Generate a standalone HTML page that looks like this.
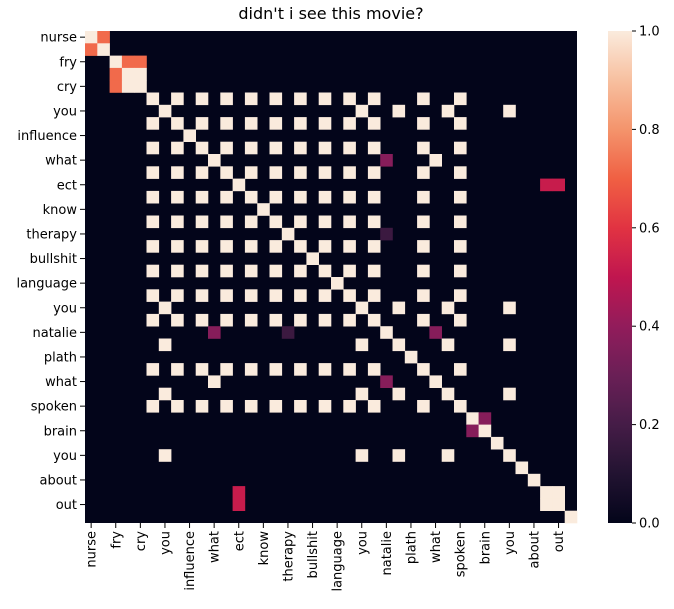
<!DOCTYPE html>
<html><head><meta charset="utf-8"><style>
body{margin:0;background:#fff;}
svg{display:block;font-family:"DejaVu Sans","Liberation Sans",sans-serif;}
</style></head><body>
<svg id="chart" width="674" height="609" viewBox="0 0 674 609">
<text x="331" y="19" font-size="16" text-anchor="middle" fill="#000">didn't i see this movie?</text>
<g id="cells"></g>
<g id="yaxis"></g>
<g id="xaxis"></g>
<defs><linearGradient id="cbgrad" x1="0" y1="1" x2="0" y2="0"></linearGradient></defs>
<rect x="608" y="31" width="24" height="492" fill="url(#cbgrad)"/>
<g id="cbaxis"></g>
</svg>
<script>
const N = 40;
const tickLabels = ["nurse","fry","cry","you","influence","what","ect","know","therapy","bullshit","language","you","natalie","plath","what","spoken","brain","you","about","out"];
// groups of tokens whose mutual similarity is 1
const groups = [
  [5,7,9,11,13,15,17,19,21,23,27,30],
  [6,22,25,29,34],
  [10,28],
  [37,38],
  [3,4]
];
// extra off-diagonal pair values [i, j, value]
const pairs = [
  [0,1,0.72],
  [2,3,0.72],[2,4,0.72],
  [12,37,0.52],[12,38,0.52],
  [24,10,0.37],[24,28,0.37],[24,16,0.17],
  [31,32,0.37]
];
const cbTicks = [0.0,0.2,0.4,0.6,0.8,1.0];

const x0=85,y0=31,W=492,H=492,cs=W/N;
const xScale=i=>x0+i*cs, yScale=i=>y0+i*cs;
const stops=[[0,"#03051a"],[0.1,"#221331"],[0.2,"#451c47"],[0.3,"#6a1f56"],[0.4,"#921c5b"],[0.5,"#c0164f"],[0.6,"#e13342"],[0.7,"#f06043"],[0.8,"#f4946c"],[0.9,"#f7c0a0"],[1,"#faebdd"]];
function hex(h){return [1,3,5].map(k=>parseInt(h.substr(k,2),16));}
function color(v){v=Math.max(0,Math.min(1,v));for(let k=1;k<stops.length;k++){if(v<=stops[k][0]){const a=stops[k-1],b=stops[k];const t=(v-a[0])/(b[0]-a[0]);const A=hex(a[1]),B=hex(b[1]);return "rgb("+A.map((c,i)=>Math.round(c+(B[i]-c)*t)).join(",")+")";}}return stops[stops.length-1][1];}

const M=[];for(let i=0;i<N;i++){M.push(new Array(N).fill(0));M[i][i]=1;}
groups.forEach(g=>g.forEach(a=>g.forEach(b=>{M[a][b]=1;})));
pairs.forEach(p=>{M[p[0]][p[1]]=p[2];M[p[1]][p[0]]=p[2];});

const NS="http://www.w3.org/2000/svg";
const cells=document.getElementById("cells");
const bg=document.createElementNS(NS,"rect");


bg.setAttribute("x",x0);bg.setAttribute("y",y0);bg.setAttribute("width",W);bg.setAttribute("height",H);bg.setAttribute("fill",color(0));
cells.appendChild(bg);
for(let i=0;i<N;i++)for(let j=0;j<N;j++){
  if(M[i][j]<=0)continue;
  const r=document.createElementNS(NS,"rect");
  
  
  r.setAttribute("x",xScale(j));r.setAttribute("y",yScale(i));
  r.setAttribute("width",cs+0.3);r.setAttribute("height",cs+0.3);
  r.setAttribute("fill",color(M[i][j]));
  cells.appendChild(r);
}
const ya=document.getElementById("yaxis"),xa=document.getElementById("xaxis");
tickLabels.forEach((lab,k)=>{
  const idx=k*2,c=yScale(idx)+cs/2,cx=xScale(idx)+cs/2;
  const t=document.createElementNS(NS,"line");
  
  
  t.setAttribute("x1",x0-5);t.setAttribute("x2",x0);t.setAttribute("y1",c);t.setAttribute("y2",c);t.setAttribute("stroke","#000");
  ya.appendChild(t);
  const tx=document.createElementNS(NS,"text");
  
  
  tx.setAttribute("x",x0-8);tx.setAttribute("y",c+4.5);tx.setAttribute("text-anchor","end");tx.setAttribute("font-size","13");
  tx.textContent=lab;ya.appendChild(tx);
  const t2=document.createElementNS(NS,"line");
  
  
  t2.setAttribute("x1",cx);t2.setAttribute("x2",cx);t2.setAttribute("y1",y0+H);t2.setAttribute("y2",y0+H+5);t2.setAttribute("stroke","#000");
  xa.appendChild(t2);
  const lx=document.createElementNS(NS,"text");
  
  
  lx.setAttribute("transform","translate("+(cx+4.5)+","+(y0+H+8)+") rotate(-90)");
  lx.setAttribute("text-anchor","end");lx.setAttribute("font-size","13");
  lx.textContent=lab;xa.appendChild(lx);
});
const grad=document.getElementById("cbgrad");
for(let k=0;k<=20;k++){const s=document.createElementNS(NS,"stop");s.setAttribute("offset",k/20);s.setAttribute("stop-color",color(k/20));grad.appendChild(s);}
const cb=document.getElementById("cbaxis");
cbTicks.forEach(v=>{
  const y=y0+H-v*H;
  const l=document.createElementNS(NS,"line");
  
  
  l.setAttribute("x1",632);l.setAttribute("x2",636);l.setAttribute("y1",y);l.setAttribute("y2",y);l.setAttribute("stroke","#000");
  cb.appendChild(l);
  const t=document.createElementNS(NS,"text");
  
  
  t.setAttribute("x",639);t.setAttribute("y",y+4.5);t.setAttribute("font-size","13");
  t.textContent=v.toFixed(1);cb.appendChild(t);
});
</script>
</body></html>
